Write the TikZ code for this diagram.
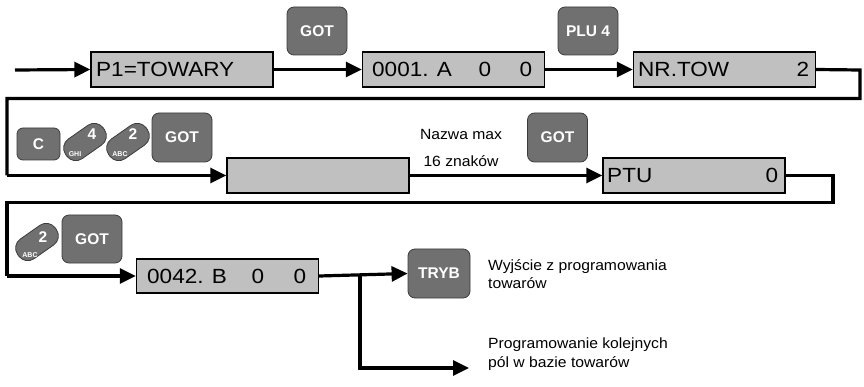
\documentclass[tikz,border=0pt]{standalone}
\usepackage{fontspec}
\setmainfont{Liberation Sans}
\newfontfamily\lcdfont[FakeStretch=1.1]{Liberation Sans}
\newfontfamily\notefont[FakeStretch=1.06]{Liberation Sans}
\usetikzlibrary{arrows.meta}
\definecolor{boxgray}{HTML}{C0C0C0}
\definecolor{keygray}{HTML}{707070}
\definecolor{keyedge}{HTML}{3C3C3C}
\tikzset{
  lcdbox/.style={draw=black, line width=1.4pt, fill=boxgray, minimum width=182pt, minimum height=35pt, inner sep=0pt},
  keybox/.style={draw=keyedge, line width=0.8pt, fill=keygray, rounded corners=7pt, minimum width=60pt, minimum height=48pt, inner sep=0pt, text=white, font=\fontsize{15.5}{17}\selectfont\bfseries},
  pillkey/.style={draw=keyedge, line width=0.8pt, fill=keygray, rounded corners=11pt, minimum width=46pt, minimum height=24pt, inner sep=0pt, rotate=35},
  bigdigit/.style={text=white, font=\fontsize{15.5}{16}\selectfont\bfseries, inner sep=0pt},
  smalllbl/.style={text=white, font=\fontsize{7}{8}\selectfont\bfseries, inner sep=0pt},
  lcdtxt/.style={font=\lcdfont\fontsize{20.5}{22}\selectfont, inner sep=0pt},
  note/.style={font=\notefont\fontsize{14.8}{18.5}\selectfont, inner sep=0pt, align=left},
  flow/.style={line width=3.2pt, -{Triangle[length=16pt,width=15pt]}},
  flowplain/.style={line width=3.2pt}
}
\begin{document}
\begin{tikzpicture}[x=1pt,y=-1pt]
\useasboundingbox (0,0) rectangle (864,387);

% ---- row 1
\node[lcdbox] (p1) at (182,69.5) {};
\node[lcdtxt, anchor=west] (p1t) at (96,69.5) {P1=TOWARY};
\node[lcdbox] (b1) at (453.5,69.5) {};
\node[lcdtxt, anchor=west] (b1t) at (372,69.5) {0001. A};
\node[lcdtxt] (b1z1) at (485,69.5) {0};
\node[lcdtxt] (b1z2) at (526,69.5) {0};
\node[lcdbox] (nr) at (724.5,69.5) {};
\node[lcdtxt, anchor=west] (nrt) at (638,69.5) {NR.TOW};
\node[lcdtxt] (nr2) at (803,69.5) {2};

\node[keybox] (got1) at (317,31) {GOT};
\node[keybox] (plu) at (588,31) {PLU 4};

\coordinate (start) at (15,70);
\draw[flow] (start) -- (p1.west);
\draw[flow] (p1.east) -- (b1.west);
\draw[flow] (b1.east) -- (nr.west);

% ---- row 2
\node[lcdbox] (empty) at (318,175.5) {};
\node[lcdbox] (ptu) at (694,175.5) {};
\node[lcdtxt, anchor=west] (ptut) at (607,175.5) {PTU};
\node[lcdtxt] (ptu0) at (772,175.5) {0};

\node[keybox, minimum width=43pt, minimum height=32pt, rounded corners=6pt] (ckey) at (38.5,144) {C};
\node[pillkey] (k4) at (85,142) {};
\node[bigdigit] (k4d) at (92,134) {4};
\node[smalllbl] (k4l) at (75,154) {GHI};
\node[pillkey] (k2) at (128,142) {};
\node[bigdigit] (k2d) at (133,134) {2};
\node[smalllbl] (k2l) at (120,154) {ABC};
\node[keybox, minimum height=49pt] (got2) at (182,137.5) {GOT};
\node[keybox, minimum height=49pt] (got3) at (557.5,137.5) {GOT};

\node[note] (nazwa) at (461,134) {Nazwa max};
\node[note] (znakow) at (461,161) {16 znaków};

\coordinate (r1a) at (860,70);
\coordinate (r1b) at (860,98.5);
\coordinate (r1c) at (7,98.5);
\coordinate (r1d) at (7,175.5);
\draw[flowplain, line join=miter] (nr.east) -- (r1a) -- (r1b) -- (r1c) -- (r1d);
\draw[flow] (r1d) -- (empty.west);
\draw[flow] (empty.east) -- (ptu.west);

% ---- row 3
\node[lcdbox, minimum height=34pt] (b42) at (227.5,276) {};
\node[lcdtxt, anchor=west] (b42t) at (147,276) {0042. B};
\node[lcdtxt] (b42z1) at (258,276) {0};
\node[lcdtxt] (b42z2) at (300,276) {0};

\node[pillkey] (k2b) at (37,242) {};
\node[bigdigit] (k2bd) at (43,237) {2};
\node[smalllbl] (k2bl) at (30,255) {ABC};
\node[keybox] (got4) at (92,239) {GOT};

\node[keybox, minimum width=62pt, minimum height=49pt] (tryb) at (439,273.5) {TRYB};

\coordinate (r2a) at (833,175.5);
\coordinate (r2b) at (833,202.5);
\coordinate (r2c) at (7,202.5);
\coordinate (r2d) at (7,276);
\draw[flowplain, line join=miter] (ptu.east) -- (r2a) -- (r2b) -- (r2c) -- (r2d);
\draw[flow] (r2d) -- (b42.west);

\draw[flow] (b42.east) -- (tryb.west);
\coordinate (br) at (360,276);
\coordinate (brd) at (360,368);
\coordinate (bre) at (469,368);
\draw[flowplain] (br) -- (brd);
\draw[flow, line join=miter] (br) -- (brd) -- (bre);

\node[note, anchor=north west] (exit) at (488,259) {Wyjście z programowania\\towarów};
\node[note, anchor=north west] (next) at (488,338) {Programowanie kolejnych\\pól w bazie towarów};
\end{tikzpicture}
\end{document}
